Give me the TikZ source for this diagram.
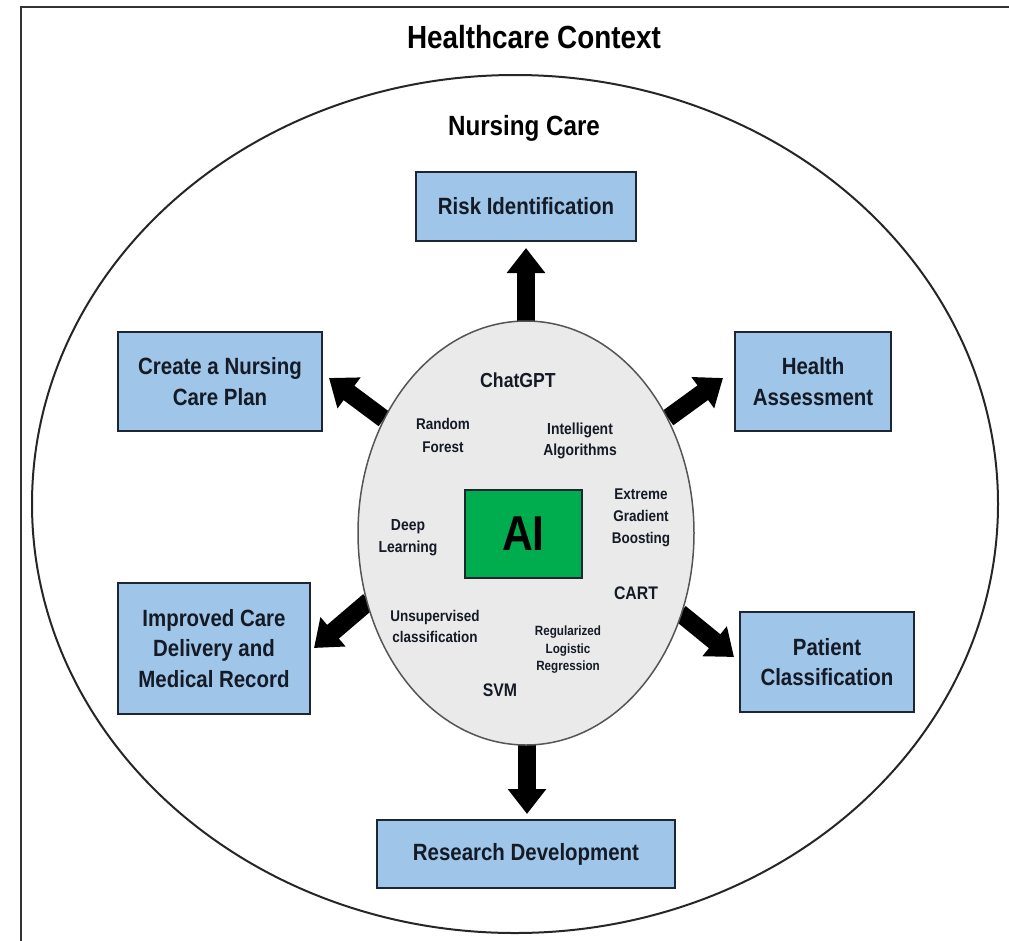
\documentclass[tikz,border=0pt]{standalone}
\usepackage{fontspec}
\setmainfont{Liberation Sans}[FakeStretch=0.87]
\usetikzlibrary{arrows.meta,shapes.geometric}
\definecolor{boxblue}{HTML}{9FC5E8}
\definecolor{boxline}{HTML}{1F2633}
\definecolor{aigreen}{HTML}{00AD4E}
\definecolor{ellgray}{HTML}{EAEAEA}
\definecolor{ellline}{HTML}{555555}
\definecolor{txt}{HTML}{141A26}
\tikzset{
  bluebox/.style={draw=boxline, line width=2pt, fill=boxblue, inner sep=0pt,
    align=center, text=txt, font=\bfseries\fontsize{23.5}{30.5}\selectfont},
  lbl/.style={align=center, text=txt, inner sep=0pt},
  blockarrow/.style={line width=18pt, black, -{Triangle[length=25pt,width=37pt]}},
}
\begin{document}
\begin{tikzpicture}[x=1pt,y=-1pt]
\useasboundingbox (0,0) rectangle (1009,940);
\clip (0,0) rectangle (1009,940);
% frame
\draw[line width=2pt, draw=black!80] (21,7) rectangle (1030,960);
\node[lbl, font=\bfseries\fontsize{32}{38}\selectfont, text=black] (title) at (534,37) {Healthcare Context};
% outer ellipse
\draw[line width=2pt, draw=black!85] (515,504) ellipse [x radius=483, y radius=429];
\node[lbl, font=\bfseries\fontsize{27.8}{32}\selectfont, text=black] (nursing) at (524,128) {Nursing Care};
% boxes
\node[bluebox, minimum width=220pt, minimum height=69pt] (risk) at (526,206.5) {Risk Identification};
\node[bluebox, minimum width=204pt, minimum height=99pt] (plan) at (220,381.5) {Create a Nursing\\Care Plan};
\node[bluebox, minimum width=156pt, minimum height=99pt] (health) at (813,381.5) {Health\\Assessment};
\node[bluebox, minimum width=192pt, minimum height=131pt] (improved) at (214,648.5) {Improved Care\\Delivery and\\Medical Record};
\node[bluebox, minimum width=174pt, minimum height=100pt] (patient) at (827,662) {Patient\\Classification};
\node[bluebox, minimum width=298pt, minimum height=68pt] (research) at (526,854) {Research Development};
% arrow coordinates
\coordinate (upS) at (526,330);
\coordinate (upE) at (526,248);
\coordinate (ulS) at (384,419);
\coordinate (ulE) at (329,378);
\coordinate (urS) at (668,418);
\coordinate (urE) at (723,378);
\coordinate (dlS) at (369,601);
\coordinate (dlE) at (314,648);
\coordinate (drS) at (680,613);
\coordinate (drE) at (734,657);
\coordinate (dnS) at (527,735);
\coordinate (dnE) at (527,814);
\draw[blockarrow] (upS) -- (upE);
\draw[blockarrow] (ulS) -- (ulE);
\draw[blockarrow] (urS) -- (urE);
\draw[blockarrow] (dlS) -- (dlE);
\draw[blockarrow] (drS) -- (drE);
\draw[blockarrow] (dnS) -- (dnE);
% gray ellipse
\node[draw=ellline, line width=1.5pt, fill=ellgray, ellipse, minimum width=336pt, minimum height=424pt, inner sep=0pt] (core) at (526,533) {};
% AI box
\node[draw=boxline, line width=1.5pt, fill=aigreen, minimum width=117pt, minimum height=88pt, inner sep=0pt, font=\bfseries\fontsize{49}{52}\selectfont, text=black] (ai) at (523.5,534) {AI};
% labels
\node[lbl, font=\bfseries\fontsize{20.3}{24}\selectfont] (chatgpt) at (518,380) {ChatGPT};
\node[lbl, font=\bfseries\fontsize{15.5}{23}\selectfont] (rf) at (443,435) {Random\\Forest};
\node[lbl, font=\bfseries\fontsize{16}{21}\selectfont] (ia) at (580,441) {Intelligent\\Algorithms};
\node[lbl, font=\bfseries\fontsize{15.5}{22}\selectfont] (xgb) at (641,518) {Extreme\\Gradient\\Boosting};
\node[lbl, font=\bfseries\fontsize{16}{22}\selectfont] (dl) at (408,538) {Deep\\Learning};
\node[lbl, font=\bfseries\fontsize{18.2}{20}\selectfont] (cart) at (636,593) {CART};
\node[lbl, font=\bfseries\fontsize{15.5}{21}\selectfont] (uc) at (435,626) {Unsupervised\\classification};
\node[lbl, font=\bfseries\fontsize{13.4}{17.5}\selectfont] (rlr) at (568,650) {Regularized\\Logistic\\Regression};
\node[lbl, font=\bfseries\fontsize{18.2}{20}\selectfont] (svm) at (500,690) {SVM};
\end{tikzpicture}
\end{document}
